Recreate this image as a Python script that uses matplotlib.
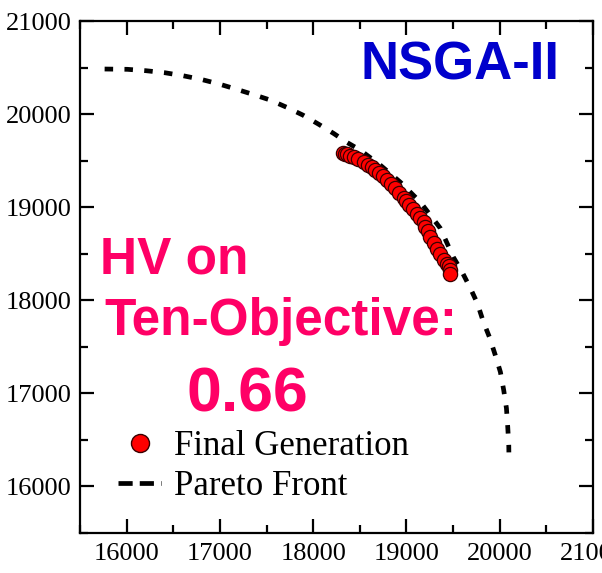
import matplotlib
matplotlib.use("Agg")
import matplotlib.pyplot as plt
from matplotlib.lines import Line2D
from matplotlib.ticker import MultipleLocator

# Pareto front
front_x = [15764, 16007, 16208, 16412, 16605, 16798, 16981, 17171, 17353, 17539,
           17718, 17890, 18057, 18218, 18362, 18504, 18719, 18934, 19149, 19363,
           19503, 19596, 19685, 19760, 19825, 19889, 19953, 20007, 20043, 20072,
           20086, 20097, 20098]
front_y = [20484, 20481, 20466, 20444, 20412, 20373, 20326, 20269, 20212, 20151,
           20072, 19989, 19892, 19793, 19696, 19613, 19452, 19269, 19054, 18774,
           18463, 18305, 18130, 17968, 17767, 17606, 17409, 17230, 17033, 16840,
           16638, 16441, 16366]

# final generation of NSGA-II
final_x = [18319, 18340, 18362, 18395, 18433, 18480, 18540, 18585, 18630, 18668,
           18701, 18745, 18791, 18835, 18880, 18925, 18969, 18995, 19023, 19065,
           19113, 19150, 19184, 19202, 19230, 19256, 19290, 19328, 19360, 19398,
           19430, 19452, 19465, 19470]
final_y = [19577, 19572, 19570, 19555, 19541, 19515, 19481, 19455, 19427, 19400,
           19369, 19330, 19290, 19250, 19204, 19150, 19102, 19065, 19027, 18985,
           18932, 18885, 18842, 18788, 18740, 18681, 18620, 18556, 18495, 18430,
           18395, 18366, 18320, 18280]

fig = plt.figure(figsize=(6.02, 5.73), dpi=100)
ax = fig.add_axes([80 / 602, 1 - 533 / 573, 513 / 602, 512 / 573])

ax.plot(front_x, front_y, color="black", lw=3.4, linestyle=(0, (1.8, 2.4)))
ax.scatter(final_x, final_y, s=105, facecolor="#ff0000", edgecolor="#3a0000",
           linewidth=0.9, zorder=3)

ax.set_xlim(15500, 21000)
ax.set_ylim(15500, 21000)
ax.xaxis.set_major_locator(MultipleLocator(1000))
ax.xaxis.set_minor_locator(MultipleLocator(500))
ax.yaxis.set_major_locator(MultipleLocator(1000))
ax.yaxis.set_minor_locator(MultipleLocator(500))

for s in ax.spines.values():
    s.set_linewidth(1.6)
ax.tick_params(which="both", direction="in", top=True, right=True, width=1.6)
ax.tick_params(which="major", length=10)
ax.tick_params(which="minor", length=5.5)
ax.tick_params(axis="x", pad=7)
ax.tick_params(axis="y", pad=6)
for lab in ax.get_xticklabels() + ax.get_yticklabels():
    lab.set_fontfamily("Liberation Serif")
    lab.set_fontsize(19)

# legend
h1 = Line2D([], [], marker="o", ls="none", markersize=13,
            markerfacecolor="#ff0000", markeredgecolor="#3a0000", markeredgewidth=1)
h2 = Line2D([], [], color="black", lw=3.4, ls=(0, (3, 1.5)))
ax.legend([h1, h2], ["Final Generation", "Pareto Front"], loc="lower left",
          bbox_to_anchor=(118 / 602, 1 - 503 / 573), bbox_transform=fig.transFigure,
          frameon=False, handlelength=1.25, handletextpad=0.35, labelspacing=0.2,
          borderpad=0, borderaxespad=0,
          prop={"family": "Liberation Serif", "size": 25})

pink = "#ff0066"
bold = dict(family="Liberation Sans", weight="bold")
fig.text(360 / 602, 1 - 79 / 573, "NSGA-II", color="#0000cc", fontsize=38, va="baseline", **bold)
fig.text(100 / 602, 1 - 273 / 573, "HV on", color=pink, fontsize=37, va="baseline", **bold)
fig.text(104 / 602, 1 - 335 / 573, "Ten-Objective:", color=pink, fontsize=37, va="baseline", **bold)
fig.text(186 / 602, 1 - 411 / 573, "0.66", color=pink, fontsize=45, va="baseline", **bold)

fig.savefig("out.png", dpi=100)
